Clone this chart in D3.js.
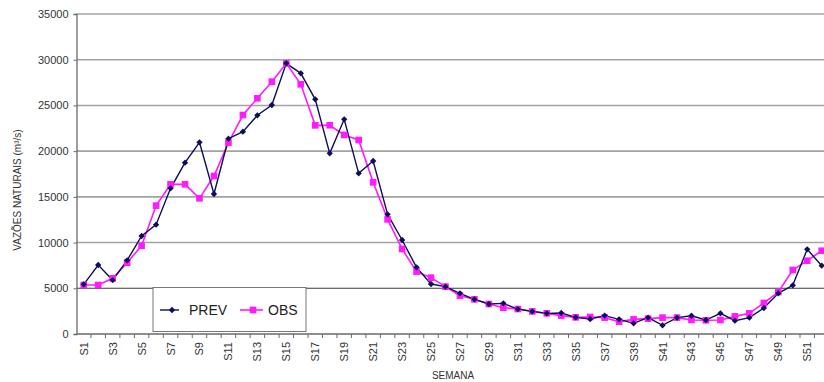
<!DOCTYPE html>
<html>
<head>
<meta charset="utf-8">
<script src="https://cdn.jsdelivr.net/npm/d3@7"></script>
<style>
  html, body { margin: 0; padding: 0; background: #fff; }
  svg { display: block; font-family: "Liberation Sans", Arial, sans-serif; }
</style>
</head>
<body>
<svg id="chart" width="824" height="382"></svg>
<script>
// Weekly natural inflows (m³/s): forecast vs observed
const weeks = d3.range(1, 53).map(i => "S" + i);
const prev = [5430, 7550, 5900, 8060, 10720, 11960, 15930, 18740, 20960, 15310,
              21360, 22130, 23920, 25050, 29600, 28510, 25670, 19760, 23480, 17570,
              18920, 13090, 10280, 7290, 5470, 5180, 4450, 3790, 3280, 3350,
              2730, 2470, 2260, 2300, 1820, 1640, 2010, 1600, 1170, 1790,
              950, 1790, 2000, 1530, 2260, 1460, 1790, 2840, 4450, 5320,
              9260, 7470];
const obs  = [5360, 5360, 6090, 7800, 9660, 14040, 16370, 16370, 14840, 17280,
              20930, 23950, 25780, 27600, 29600, 27310, 22820, 22830, 21770, 21220,
              16590, 12540, 9300, 6820, 6160, 5180, 4190, 3790, 3280, 2880,
              2730, 2470, 2260, 2010, 1820, 1860, 1790, 1350, 1600, 1680,
              1790, 1790, 1530, 1500, 1530, 1930, 2260, 3390, 4590, 7000,
              8020, 9110];
const yTicks = [0, 5000, 10000, 15000, 20000, 25000, 30000, 35000];
const xLabels = weeks.filter((d, i) => i % 2 === 0);

const svg = d3.select("#chart");
const plotLeft = 76.5, plotTop = 14, plotBottom = 334, step = 14.47;
const x = d3.scaleBand().domain(weeks).range([plotLeft, plotLeft + weeks.length * step]).padding(0);
const y = d3.scaleLinear().domain([0, 35000]).range([plotBottom, plotTop]);
const cx = d => x(d) + x.bandwidth() / 2;

// horizontal grid
svg.append("g").selectAll("line").data(yTicks.filter(v => v > 0)).join("line")
  .attr("x1", plotLeft).attr("x2", 824)
  .attr("y1", d => y(d)).attr("y2", d => y(d))
  .attr("stroke", d => d === 5000 ? "#3a3a3a" : "#a3a3a3")
  .attr("stroke-width", d => d === 5000 ? 1.1 : 1.6);

// y axis
const yAxis = d3.axisLeft(y).tickValues(yTicks).tickSize(3).tickPadding(5).tickFormat(d3.format("d"));
const gy = svg.append("g").attr("transform", `translate(${plotLeft},0)`).call(yAxis);
gy.select(".domain").attr("stroke", "#6a6a6a").attr("stroke-width", 1.3);
gy.selectAll(".tick line").attr("stroke", "#6a6a6a");
gy.selectAll("text").attr("fill", "#333").style("font-size", "11px")
  .style("font-family", "'Liberation Sans', Arial, sans-serif");

// x axis: ticks on band edges, labels on every other week
const gx = svg.append("g").attr("transform", `translate(0,${plotBottom})`);
gx.append("line").attr("x1", plotLeft).attr("x2", 824).attr("y1", 0).attr("y2", 0)
  .attr("stroke", "#6a6a6a").attr("stroke-width", 1.3);
gx.selectAll("line.tk").data(weeks).join("line").attr("class", "tk")
  .attr("x1", d => x(d) + x.bandwidth()).attr("x2", d => x(d) + x.bandwidth())
  .attr("y1", 0).attr("y2", 4).attr("stroke", "#6a6a6a");
gx.selectAll("text").data(xLabels).join("text")
  .attr("transform", d => `translate(${cx(d) + 4},8) rotate(-90)`)
  .attr("text-anchor", "end")
  .attr("fill", "#333").style("font-size", "11px")
  .text(d => d);

// axis titles
svg.append("text").attr("x", 453).attr("y", 379).attr("text-anchor", "middle")
  .attr("fill", "#333").style("font-size", "10px").text("SEMANA");
svg.append("text").attr("transform", "translate(21,190) rotate(-90)").attr("text-anchor", "middle")
  .attr("fill", "#333").style("font-size", "10px").text("VAZÕES NATURAIS (m³/s)");

// series
const line = d3.line().x((d, i) => cx(weeks[i])).y(d => y(d));
const navy = "#0d0d5c", magenta = "#ff1aff";

svg.append("path").datum(obs).attr("d", line)
  .attr("fill", "none").attr("stroke", magenta).attr("stroke-width", 1.6);
svg.append("path").datum(prev).attr("d", line)
  .attr("fill", "none").attr("stroke", navy).attr("stroke-width", 1.4);

const square = d3.symbol().type(d3.symbolSquare).size(44);
// diamond marker: a small square turned 45°
const diamond = d3.symbol().type(d3.symbolSquare).size(20);

svg.append("g").selectAll("path").data(obs).join("path")
  .attr("d", square).attr("fill", magenta)
  .attr("transform", (d, i) => `translate(${cx(weeks[i])},${y(d)})`);
svg.append("g").selectAll("path").data(prev).join("path")
  .attr("d", diamond).attr("fill", navy)
  .attr("transform", (d, i) => `translate(${cx(weeks[i])},${y(d)}) rotate(45)`);

// legend
const lg = svg.append("g");
lg.append("rect").attr("x", 153).attr("y", 287.5).attr("width", 153).attr("height", 44)
  .attr("fill", "#fff").attr("stroke", "#777").attr("stroke-width", 1);
lg.append("line").attr("x1", 160).attr("x2", 179).attr("y1", 310).attr("y2", 310)
  .attr("stroke", navy).attr("stroke-width", 1.4);
lg.append("path").attr("d", diamond).attr("fill", navy).attr("transform", "translate(172,310) rotate(45)");
lg.append("text").attr("x", 189).attr("y", 315).attr("fill", "#222").style("font-size", "14px").text("PREV");
lg.append("line").attr("x1", 240).attr("x2", 263).attr("y1", 310).attr("y2", 310)
  .attr("stroke", magenta).attr("stroke-width", 1.6);
lg.append("path").attr("d", square).attr("fill", magenta).attr("transform", "translate(253,310)");
lg.append("text").attr("x", 268).attr("y", 315).attr("fill", "#222").style("font-size", "14px").text("OBS");
</script>
</body>
</html>
